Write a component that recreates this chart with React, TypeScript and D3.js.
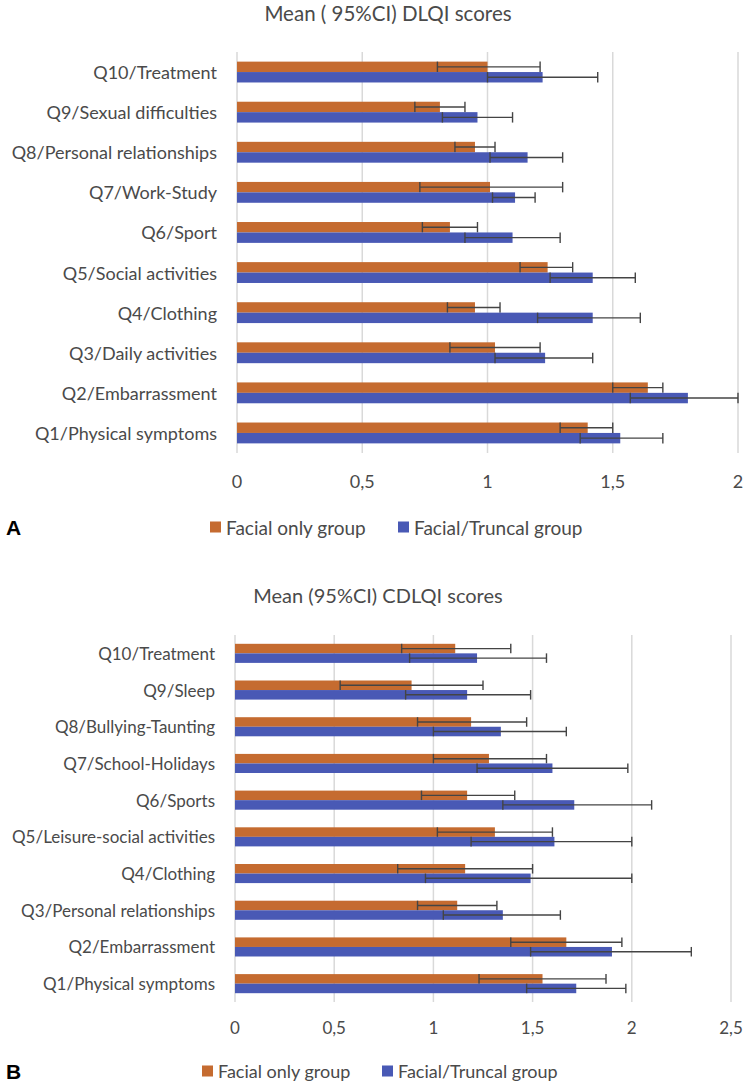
import React from "react";
import * as d3 from "d3";

const categoriesA = ["Q1/Physical symptoms","Q2/Embarrassment","Q3/Daily activities","Q4/Clothing","Q5/Social activities","Q6/Sport","Q7/Work-Study","Q8/Personal relationships","Q9/Sexual difficulties","Q10/Treatment"];
const facialOnlyA = [1.40,1.64,1.03,0.95,1.24,0.85,1.01,0.95,0.81,1.00];
const facialOnlyALow = [1.29,1.50,0.85,0.84,1.13,0.74,0.73,0.87,0.71,0.80];
const facialOnlyAHigh = [1.50,1.70,1.21,1.05,1.34,0.96,1.30,1.03,0.91,1.21];
const truncalA = [1.53,1.80,1.23,1.42,1.42,1.10,1.11,1.16,0.96,1.22];
const truncalALow = [1.37,1.57,1.03,1.20,1.25,0.91,1.02,1.01,0.82,1.00];
const truncalAHigh = [1.70,2.00,1.42,1.61,1.59,1.29,1.19,1.30,1.10,1.44];
const ticksA = [0, 0.5, 1, 1.5, 2];

const categoriesB = ["Q1/Physical symptoms","Q2/Embarrassment","Q3/Personal relationships","Q4/Clothing","Q5/Leisure-social activities","Q6/Sports","Q7/School-Holidays","Q8/Bullying-Taunting","Q9/Sleep","Q10/Treatment"];
const facialOnlyB = [1.55,1.67,1.12,1.16,1.31,1.17,1.28,1.19,0.89,1.11];
const facialOnlyBLow = [1.23,1.39,0.92,0.82,1.02,0.94,1.00,0.92,0.53,0.84];
const facialOnlyBHigh = [1.87,1.95,1.32,1.50,1.60,1.41,1.57,1.47,1.25,1.39];
const truncalB = [1.72,1.90,1.35,1.49,1.61,1.71,1.60,1.34,1.17,1.22];
const truncalBLow = [1.47,1.49,1.05,0.96,1.19,1.35,1.22,1.00,0.86,0.88];
const truncalBHigh = [1.97,2.30,1.64,2.00,2.00,2.10,1.98,1.67,1.49,1.57];
const ticksB = [0, 0.5, 1, 1.5, 2, 2.5];

const seriesNames = ["Facial only group", "Facial/Truncal group"];
const seriesColors = ["#C56B30", "#4959B5"];

const FONT = "Lato, 'Open Sans', sans-serif";
const TEXT = "#4a4a4a";
const GRID = "#D9D9D9";
const ERR = "#444444";

type PanelProps = {
  title: string; letter: string; categories: string[];
  s1: number[]; s1lo: number[]; s1hi: number[];
  s2: number[]; s2lo: number[]; s2hi: number[];
  ticks: number[];
  x0: number; x1: number; y0: number; y1: number;
  titleX: number; titleY: number; tickY: number; legendY: number; legendX: number; legendGap: number;
  fontSize: number; titleSize: number; legendSize: number;
};

function Panel(p: PanelProps) {
  const x = d3.scaleLinear().domain([0, p.ticks[p.ticks.length - 1]]).range([p.x0, p.x1]);
  const y = d3.scaleBand<string>().domain([...p.categories].reverse()).range([p.y0, p.y1]).paddingInner(0.48).paddingOuter(0.24);
  const inner = d3.scaleBand<number>().domain([0, 1]).range([0, y.bandwidth()]);
  const series = [
    { v: p.s1, lo: p.s1lo, hi: p.s1hi },
    { v: p.s2, lo: p.s2lo, hi: p.s2hi },
  ];
  const fmt = (t: number) => String(t).replace(".", ",");
  return (
    <g>
      <text x={p.titleX} y={p.titleY} textAnchor="middle" dominantBaseline="central" fontSize={p.titleSize} fill={TEXT} fontFamily={FONT}>{p.title}</text>
      {p.ticks.map((t) => (
        <line key={"g" + t} x1={x(t)} x2={x(t)} y1={p.y0} y2={p.y1} stroke={GRID} strokeWidth={1.5} />
      ))}
      {p.categories.map((c, i) => (
        <g key={c}>
          {series.map((s, k) => {
            const by = (y(c) as number) + (inner(k) as number);
            const h = inner.bandwidth();
            const cy = by + h / 2;
            return (
              <g key={k}>
                <rect x={x(0)} y={by} width={x(s.v[i]) - x(0)} height={h} fill={seriesColors[k]} />
                <line x1={x(s.lo[i])} x2={x(s.hi[i])} y1={cy} y2={cy} stroke={ERR} strokeWidth={1.4} />
                <line x1={x(s.lo[i])} x2={x(s.lo[i])} y1={by} y2={by + h} stroke={ERR} strokeWidth={1.4} />
                <line x1={x(s.hi[i])} x2={x(s.hi[i])} y1={by} y2={by + h} stroke={ERR} strokeWidth={1.4} />
              </g>
            );
          })}
          <text x={p.x0 - 20} y={(y(c) as number) + y.bandwidth() / 2} textAnchor="end" dominantBaseline="central" fontSize={p.fontSize} fill={TEXT} fontFamily={FONT}>{c}</text>
        </g>
      ))}
      {p.ticks.map((t) => (
        <text key={"t" + t} x={x(t)} y={p.tickY} textAnchor="middle" dominantBaseline="central" fontSize={p.fontSize} fill={TEXT} fontFamily={FONT}>{fmt(t)}</text>
      ))}
      <text x={6} y={p.legendY + 7.5} fontSize={21} fontWeight="bold" fill="#000" fontFamily="'Liberation Sans', Arial, sans-serif">{p.letter}</text>
      {seriesNames.map((n, k) => {
        const lx = p.legendX + k * p.legendGap;
        return (
          <g key={n}>
            <rect x={lx} y={p.legendY - 5.5} width={11} height={11} fill={seriesColors[k]} />
            <text x={lx + 16} y={p.legendY} dominantBaseline="central" fontSize={p.legendSize} fill={TEXT} fontFamily={FONT}>{n}</text>
          </g>
        );
      })}
    </g>
  );
}

export default function App() {
  return (
    <svg width={747} height={1083} style={{ position: "absolute", left: 0, top: 0, background: "#fff" }}>
      <rect width={747} height={1083} fill="#fff" />
      <Panel title="Mean ( 95%CI) DLQI scores" letter="A" categories={categoriesA}
        s1={facialOnlyA} s1lo={facialOnlyALow} s1hi={facialOnlyAHigh}
        s2={truncalA} s2lo={truncalALow} s2hi={truncalAHigh}
        ticks={ticksA} x0={237} x1={738} y0={52} y1={453}
        titleX={388} titleY={13} tickY={481} legendY={527} legendX={210} legendGap={188}
        fontSize={18} titleSize={20.5} legendSize={19} />
      <Panel title="Mean (95%CI) CDLQI scores" letter="B" categories={categoriesB}
        s1={facialOnlyB} s1lo={facialOnlyBLow} s1hi={facialOnlyBHigh}
        s2={truncalB} s2lo={truncalBLow} s2hi={truncalBHigh}
        ticks={ticksB} x0={235} x1={731} y0={635} y1={1002}
        titleX={378} titleY={595} tickY={1027} legendY={1071} legendX={202} legendGap={180}
        fontSize={17} titleSize={20} legendSize={18} />
    </svg>
  );
}
